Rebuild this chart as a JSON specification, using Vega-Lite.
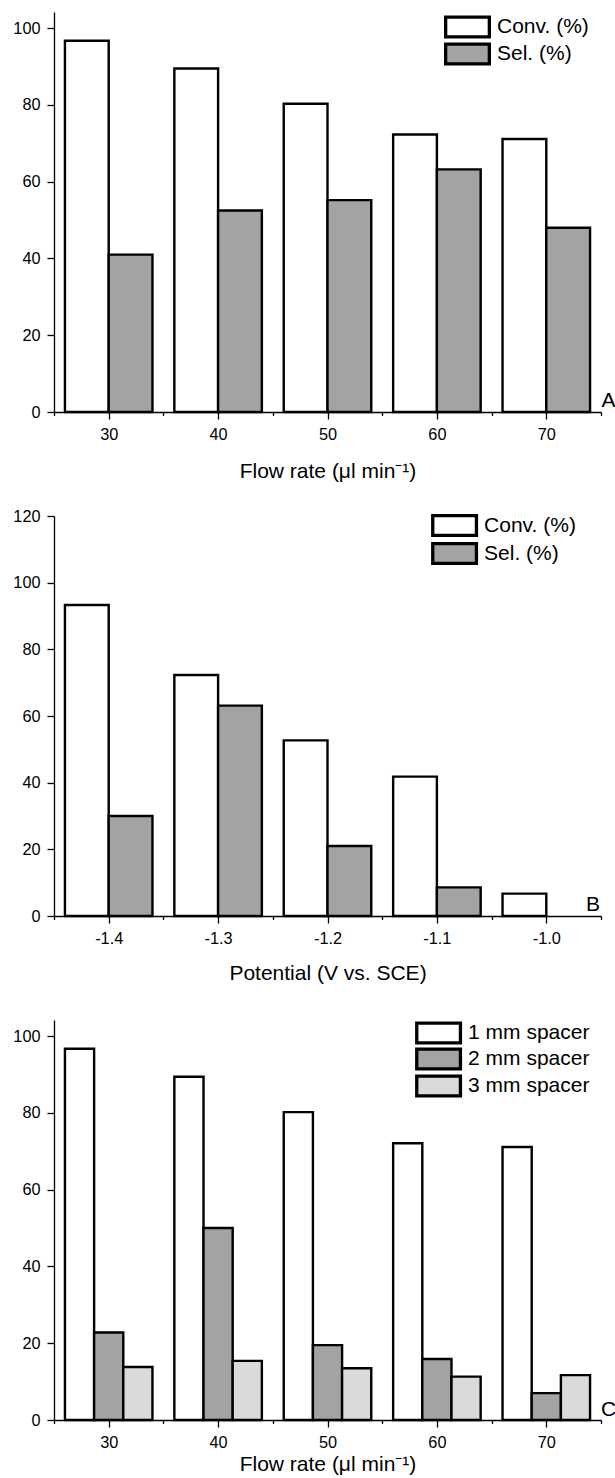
{
  "$schema": "https://vega.github.io/schema/vega-lite/v6.json",
  "background": "white",
  "padding": {"left": 12, "top": 12, "right": 0, "bottom": 0},
  "config": {
    "view": {"stroke": null},
    "axis": {
      "grid": false,
      "domainColor": "black",
      "domainWidth": 1.3,
      "tickColor": "black",
      "tickWidth": 1.3,
      "labelColor": "black",
      "labelFont": "Liberation Sans",
      "labelFontSize": 16.3,
      "titleFont": "Liberation Sans",
      "titleFontSize": 21,
      "titleFontWeight": "normal",
      "titleColor": "black"
    },
    "legend": {
      "labelFont": "Liberation Sans",
      "labelFontSize": 21,
      "labelColor": "black",
      "title": null,
      "padding": 0,
      "orient": "none",
      "symbolType": "M-1.986,-0.895H1.986V0.895H-1.986Z",
      "symbolSize": 484,
      "symbolStrokeColor": "black",
      "symbolStrokeWidth": 3.3,
      "labelOffset": 16.5
    }
  },
  "vconcat": [
    {
      "width": 547,
      "height": 400,
      "layer": [
        {
          "data": {"name": "pa", "values": [
            {"x": 30, "series": "Conv. (%)", "value": 96.7},
            {"x": 40, "series": "Conv. (%)", "value": 89.5},
            {"x": 50, "series": "Conv. (%)", "value": 80.3},
            {"x": 60, "series": "Conv. (%)", "value": 72.3},
            {"x": 70, "series": "Conv. (%)", "value": 71.1},
            {"x": 30, "series": "Sel. (%)", "value": 41.0},
            {"x": 40, "series": "Sel. (%)", "value": 52.5},
            {"x": 50, "series": "Sel. (%)", "value": 55.2},
            {"x": 60, "series": "Sel. (%)", "value": 63.2},
            {"x": 70, "series": "Sel. (%)", "value": 48.0}
          ]},
          "transform": [{"filter": "datum.series === 'Conv. (%)'"}],
          "mark": {"type": "bar", "width": 43.76, "xOffset": -21.88, "stroke": "black", "strokeWidth": 2.4},
          "encoding": {
            "x": {"field": "x", "type": "quantitative", "title": "Flow rate (μl min⁻¹)",
              "scale": {"domain": [25, 75], "nice": false, "zero": false, "padding": 0},
              "axis": {"values": [25, 30, 35, 40, 45, 50, 55, 60, 65, 70, 75],
                "labelExpr": "datum.value % 10 === 0 ? datum.label : ''",
                "tickSize": {"condition": {"test": "datum.value % 10 === 0", "value": 7}, "value": 3.5},
                "labelPadding": 7.5, "titlePadding": 18, "labelFlush": false}},
            "y": {"field": "value", "type": "quantitative", "title": null,
              "scale": {"domain": [0, 104.2], "nice": false, "padding": 0},
              "axis": {"values": [0, 10, 20, 30, 40, 50, 60, 70, 80, 90, 100],
                "labelExpr": "datum.value % 20 === 0 ? datum.label : ''",
                "tickSize": {"condition": {"test": "datum.value % 20 === 0", "value": 7}, "value": 3.5},
                "labelPadding": 7}},
            "fill": {"field": "series", "type": "nominal",
              "scale": {"domain": ["Conv. (%)", "Sel. (%)"], "range": ["white", "#a3a3a3"]},
              "legend": {"values": ["Conv. (%)"], "legendX": 400.5, "legendY": 2}}
          }
        },
        {
          "data": {"name": "pa"},
          "transform": [{"filter": "datum.series === 'Sel. (%)'"}],
          "mark": {"type": "bar", "width": 43.76, "xOffset": 21.88, "strokeWidth": 2.4},
          "encoding": {
            "x": {"field": "x", "type": "quantitative"},
            "y": {"field": "value", "type": "quantitative"},
            "fill": {"field": "series", "type": "nominal"},
            "stroke": {"field": "series", "type": "nominal",
              "scale": {"domain": ["Sel. (%)"], "range": ["black"]},
              "legend": {"legendX": 400.5, "legendY": 29, "symbolFillColor": "#a3a3a3"}}
          }
        },
        {
          "data": {"values": [{"t": "A", "px": 75, "py": 0}]},
          "mark": {"type": "text", "align": "left", "baseline": "alphabetic", "dx": 0.5, "dy": -5, "fontSize": 21, "font": "Liberation Sans", "fill": "black"},
          "encoding": {
            "x": {"field": "px", "type": "quantitative"},
            "y": {"field": "py", "type": "quantitative"},
            "text": {"field": "t", "type": "nominal"}
          }
        }
      ]
    },
    {
      "width": 547,
      "height": 400,
      "layer": [
        {
          "data": {"name": "pb", "values": [
            {"x": -1.4, "series": "Conv. (%)", "value": 93.3},
            {"x": -1.3, "series": "Conv. (%)", "value": 72.3},
            {"x": -1.2, "series": "Conv. (%)", "value": 52.7},
            {"x": -1.1, "series": "Conv. (%)", "value": 41.8},
            {"x": -1.0, "series": "Conv. (%)", "value": 6.7},
            {"x": -1.4, "series": "Sel. (%)", "value": 30.0},
            {"x": -1.3, "series": "Sel. (%)", "value": 63.1},
            {"x": -1.2, "series": "Sel. (%)", "value": 21.0},
            {"x": -1.1, "series": "Sel. (%)", "value": 8.6}
          ]},
          "transform": [{"filter": "datum.series === 'Conv. (%)'"}],
          "mark": {"type": "bar", "width": 43.76, "xOffset": -21.88, "stroke": "black", "strokeWidth": 2.4},
          "encoding": {
            "x": {"field": "x", "type": "quantitative", "title": "Potential (V vs. SCE)",
              "scale": {"domain": [-1.45, -0.95], "nice": false, "zero": false, "padding": 0},
              "axis": {"values": [-1.45, -1.4, -1.35, -1.3, -1.25, -1.2, -1.15, -1.1, -1.05, -1.0, -0.95],
                "labelExpr": "abs(round(datum.value*100)) % 10 === 0 ? '-' + format(abs(datum.value), '.1f') : ''",
                "tickSize": {"condition": {"test": "abs(round(datum.value*100)) % 10 === 0", "value": 7}, "value": 3.5},
                "labelPadding": 7.5, "titlePadding": 15.5, "labelFlush": false}},
            "y": {"field": "value", "type": "quantitative", "title": null,
              "scale": {"domain": [0, 120], "nice": false, "padding": 0},
              "axis": {"values": [0, 10, 20, 30, 40, 50, 60, 70, 80, 90, 100, 110, 120],
                "labelExpr": "datum.value % 20 === 0 ? datum.label : ''",
                "tickSize": {"condition": {"test": "datum.value % 20 === 0", "value": 7}, "value": 3.5},
                "labelPadding": 7}},
            "fill": {"field": "series", "type": "nominal",
              "scale": {"domain": ["Conv. (%)", "Sel. (%)"], "range": ["white", "#a3a3a3"]},
              "legend": {"values": ["Conv. (%)"], "legendX": 387.6, "legendY": -3.5}}
          }
        },
        {
          "data": {"name": "pb"},
          "transform": [{"filter": "datum.series === 'Sel. (%)'"}],
          "mark": {"type": "bar", "width": 43.76, "xOffset": 21.88, "strokeWidth": 2.4},
          "encoding": {
            "x": {"field": "x", "type": "quantitative"},
            "y": {"field": "value", "type": "quantitative"},
            "fill": {"field": "series", "type": "nominal"},
            "stroke": {"field": "series", "type": "nominal",
              "scale": {"domain": ["Sel. (%)"], "range": ["black"]},
              "legend": {"legendX": 387.6, "legendY": 24.5, "symbolFillColor": "#a3a3a3"}}
          }
        },
        {
          "data": {"values": [{"t": "B", "px": -0.95, "py": 0}]},
          "mark": {"type": "text", "align": "right", "baseline": "alphabetic", "dx": -1, "dy": -5, "fontSize": 21, "font": "Liberation Sans", "fill": "black"},
          "encoding": {
            "x": {"field": "px", "type": "quantitative"},
            "y": {"field": "py", "type": "quantitative"},
            "text": {"field": "t", "type": "nominal"}
          }
        }
      ]
    },
    {
      "width": 547,
      "height": 400,
      "layer": [
        {
          "data": {"name": "pc", "values": [
            {"x": 30, "series": "1 mm spacer", "value": 96.7},
            {"x": 40, "series": "1 mm spacer", "value": 89.4},
            {"x": 50, "series": "1 mm spacer", "value": 80.2},
            {"x": 60, "series": "1 mm spacer", "value": 72.1},
            {"x": 70, "series": "1 mm spacer", "value": 71.1},
            {"x": 30, "series": "2 mm spacer", "value": 22.8},
            {"x": 40, "series": "2 mm spacer", "value": 50.0},
            {"x": 50, "series": "2 mm spacer", "value": 19.5},
            {"x": 60, "series": "2 mm spacer", "value": 15.9},
            {"x": 70, "series": "2 mm spacer", "value": 7.0},
            {"x": 30, "series": "3 mm spacer", "value": 13.8},
            {"x": 40, "series": "3 mm spacer", "value": 15.4},
            {"x": 50, "series": "3 mm spacer", "value": 13.5},
            {"x": 60, "series": "3 mm spacer", "value": 11.3},
            {"x": 70, "series": "3 mm spacer", "value": 11.7}
          ]},
          "transform": [{"filter": "datum.series === '1 mm spacer'"}],
          "mark": {"type": "bar", "width": 29.17, "xOffset": -29.17, "stroke": "black", "strokeWidth": 2.4},
          "encoding": {
            "x": {"field": "x", "type": "quantitative", "title": "Flow rate (μl min⁻¹)",
              "scale": {"domain": [25, 75], "nice": false, "zero": false, "padding": 0},
              "axis": {"values": [25, 30, 35, 40, 45, 50, 55, 60, 65, 70, 75],
                "labelExpr": "datum.value % 10 === 0 ? datum.label : ''",
                "tickSize": {"condition": {"test": "datum.value % 10 === 0", "value": 7}, "value": 3.5},
                "labelPadding": 7.5, "titlePadding": 3, "labelFlush": false}},
            "y": {"field": "value", "type": "quantitative", "title": null,
              "scale": {"domain": [0, 104.2], "nice": false, "padding": 0},
              "axis": {"values": [0, 10, 20, 30, 40, 50, 60, 70, 80, 90, 100],
                "labelExpr": "datum.value % 20 === 0 ? datum.label : ''",
                "tickSize": {"condition": {"test": "datum.value % 20 === 0", "value": 7}, "value": 3.5},
                "labelPadding": 7}},
            "fill": {"field": "series", "type": "nominal",
              "scale": {"domain": ["1 mm spacer", "2 mm spacer", "3 mm spacer"], "range": ["white", "#a3a3a3", "#dadada"]},
              "legend": {"values": ["1 mm spacer"], "legendX": 371.6, "legendY": 0}}
          }
        },
        {
          "data": {"name": "pc"},
          "transform": [{"filter": "datum.series === '2 mm spacer'"}],
          "mark": {"type": "bar", "width": 29.17, "xOffset": 0, "strokeWidth": 2.4},
          "encoding": {
            "x": {"field": "x", "type": "quantitative"},
            "y": {"field": "value", "type": "quantitative"},
            "fill": {"field": "series", "type": "nominal"},
            "stroke": {"field": "series", "type": "nominal",
              "scale": {"domain": ["2 mm spacer"], "range": ["black"]},
              "legend": {"legendX": 371.6, "legendY": 26, "symbolFillColor": "#a3a3a3"}}
          }
        },
        {
          "data": {"name": "pc"},
          "transform": [{"filter": "datum.series === '3 mm spacer'"}],
          "mark": {"type": "bar", "width": 29.17, "xOffset": 29.17, "stroke": "black", "strokeWidth": 2.4},
          "encoding": {
            "x": {"field": "x", "type": "quantitative"},
            "y": {"field": "value", "type": "quantitative"},
            "fill": {"field": "series", "type": "nominal"},
            "opacity": {"field": "series", "type": "ordinal",
              "scale": {"domain": ["3 mm spacer"], "range": [1, 1]},
              "legend": {"legendX": 371.6, "legendY": 53, "symbolFillColor": "#dadada"}}
          }
        },
        {
          "data": {"values": [{"t": "C", "px": 75, "py": 0}]},
          "mark": {"type": "text", "align": "left", "baseline": "alphabetic", "dx": 0, "dy": -4, "fontSize": 21, "font": "Liberation Sans", "fill": "black"},
          "encoding": {
            "x": {"field": "px", "type": "quantitative"},
            "y": {"field": "py", "type": "quantitative"},
            "text": {"field": "t", "type": "nominal"}
          }
        }
      ]
    }
  ],
  "spacing": 104,
  "bounds": "flush",
  "resolve": {"scale": {"x": "independent", "y": "independent", "fill": "independent", "stroke": "independent", "opacity": "independent"}, "legend": {"fill": "independent", "stroke": "independent", "opacity": "independent"}}
}
